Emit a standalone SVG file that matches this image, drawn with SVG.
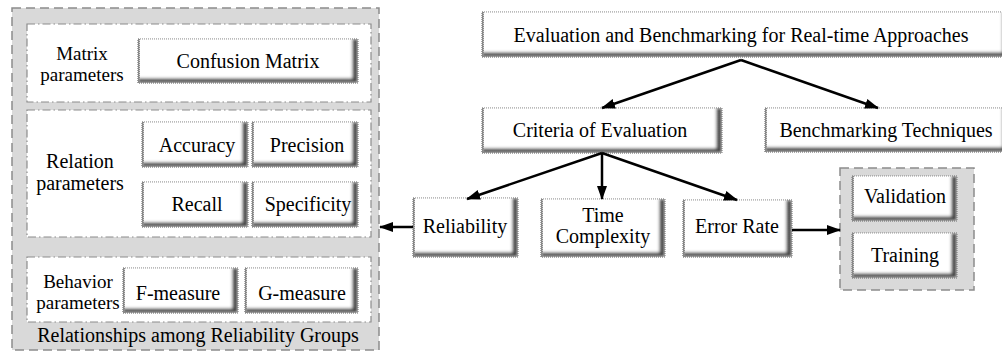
<svg xmlns="http://www.w3.org/2000/svg" width="1002" height="351" viewBox="0 0 1002 351" font-family="'Liberation Serif', 'Times New Roman', Times, serif">
<defs>
<style>
text{font-family:'Liberation Serif','Times New Roman',Times,serif;font-size:20px;fill:#000;text-anchor:middle}
.lbl{font-size:19px}
.btn{fill:#fff;stroke:#9a9a9a;stroke-width:1;stroke-dasharray:1 1;filter:url(#bevel)}
.outer{fill:#d9d9d9;stroke:#8c8c8c;stroke-width:1.5;stroke-dasharray:9 5}
.panel{fill:#fff;stroke:#8c8c8c;stroke-width:1.2;stroke-dasharray:8 3 1.5 3}
.conn{stroke:#000;stroke-width:2.5;fill:none;marker-end:url(#ah)}
</style>
<filter id="bevel" x="-5%" y="-10%" width="110%" height="120%">
<feOffset in="SourceAlpha" dx="-6" dy="-5" result="off"/>
<feComposite in="SourceAlpha" in2="off" operator="out" result="edge"/>
<feGaussianBlur in="edge" stdDeviation="1.6" result="b"/>
<feFlood flood-color="#4a4a4a"/>
<feComposite in2="b" operator="in" result="sh"/>
<feComposite in="sh" in2="SourceAlpha" operator="in" result="sh2"/>
<feOffset in="SourceAlpha" dx="2" dy="0" result="offl"/>
<feComposite in="SourceAlpha" in2="offl" operator="out" result="edgel"/>
<feFlood flood-color="#888"/>
<feComposite in2="edgel" operator="in" result="shl"/>
<feMerge><feMergeNode in="SourceGraphic"/><feMergeNode in="sh2"/><feMergeNode in="shl"/></feMerge>
</filter>
<marker id="ah" viewBox="0 0 14 10" refX="13" refY="5" markerWidth="14" markerHeight="10" markerUnits="userSpaceOnUse" orient="auto">
<path d="M0,0 L14,5 L0,10 Z" fill="#000"/>
</marker>
</defs>

<g id="reliability-groups">
<rect class="outer" x="12" y="8" width="367" height="342"/>
<text x="198" y="342">Relationships among Reliability Groups</text>
</g>

<g id="matrix-panel">
<rect class="panel" x="27" y="24" width="344" height="78"/>
<text class="lbl" x="82" y="60">Matrix</text>
<text class="lbl" x="82" y="81">parameters</text>
</g>
<g id="confusion-matrix">
<rect class="btn" x="138" y="39" width="220" height="44"/>
<text x="248" y="68">Confusion Matrix</text>
</g>

<g id="relation-panel">
<rect class="panel" x="27" y="110" width="344" height="127"/>
<text x="80" y="168">Relation</text>
<text x="80" y="190">parameters</text>
</g>
<g id="accuracy">
<rect class="btn" x="142" y="122" width="106" height="45"/>
<text x="197" y="152">Accuracy</text>
</g>
<g id="precision">
<rect class="btn" x="252" y="122" width="106" height="45"/>
<text x="307" y="152">Precision</text>
</g>
<g id="recall">
<rect class="btn" x="142" y="182" width="106" height="45"/>
<text x="197" y="211">Recall</text>
</g>
<g id="specificity">
<rect class="btn" x="252" y="182" width="106" height="45"/>
<text x="308" y="211">Specificity</text>
</g>

<g id="behavior-panel">
<rect class="panel" x="27" y="257" width="344" height="65"/>
<text class="lbl" x="78" y="288">Behavior</text>
<text class="lbl" x="78" y="309">parameters</text>
</g>
<g id="f-measure">
<rect class="btn" x="123" y="268" width="115" height="45"/>
<text x="178" y="300">F-measure</text>
</g>
<g id="g-measure">
<rect class="btn" x="245" y="268" width="113" height="45"/>
<text x="302" y="300">G-measure</text>
</g>

<g id="evaluation">
<rect class="btn" x="482" y="12" width="526" height="45"/>
<text x="741" y="42">Evaluation and Benchmarking for Real-time Approaches</text>
</g>
<g id="criteria">
<rect class="btn" x="482" y="108" width="240" height="45"/>
<text x="600" y="137">Criteria of Evaluation</text>
</g>
<g id="benchmarking">
<rect class="btn" x="765" y="108" width="243" height="44"/>
<text x="886" y="137">Benchmarking Techniques</text>
</g>
<g id="reliability">
<rect class="btn" x="413" y="198" width="105" height="59"/>
<text x="465" y="233">Reliability</text>
</g>
<g id="time-complexity">
<rect class="btn" x="541" y="199" width="124" height="58"/>
<text x="603" y="222">Time</text>
<text x="603" y="243">Complexity</text>
</g>
<g id="error-rate">
<rect class="btn" x="683" y="200" width="109" height="57"/>
<text x="737" y="233">Error Rate</text>
</g>

<g id="validation-group">
<rect class="outer" x="840" y="168" width="134" height="122"/>
</g>
<g id="validation">
<rect class="btn" x="852" y="176" width="105" height="45"/>
<text x="905" y="203">Validation</text>
</g>
<g id="training">
<rect class="btn" x="852" y="233" width="105" height="45"/>
<text x="905" y="262">Training</text>
</g>

<g id="connectors">
<line class="conn" x1="741" y1="60" x2="602" y2="108"/>
<line class="conn" x1="741" y1="60" x2="878" y2="108"/>
<line class="conn" x1="602" y1="153" x2="467" y2="199"/>
<line class="conn" x1="602" y1="153" x2="602" y2="199"/>
<line class="conn" x1="602" y1="153" x2="737" y2="200"/>
<line class="conn" x1="413" y1="227" x2="380" y2="227"/>
<line class="conn" x1="792" y1="230" x2="840" y2="230"/>
</g>
</svg>
